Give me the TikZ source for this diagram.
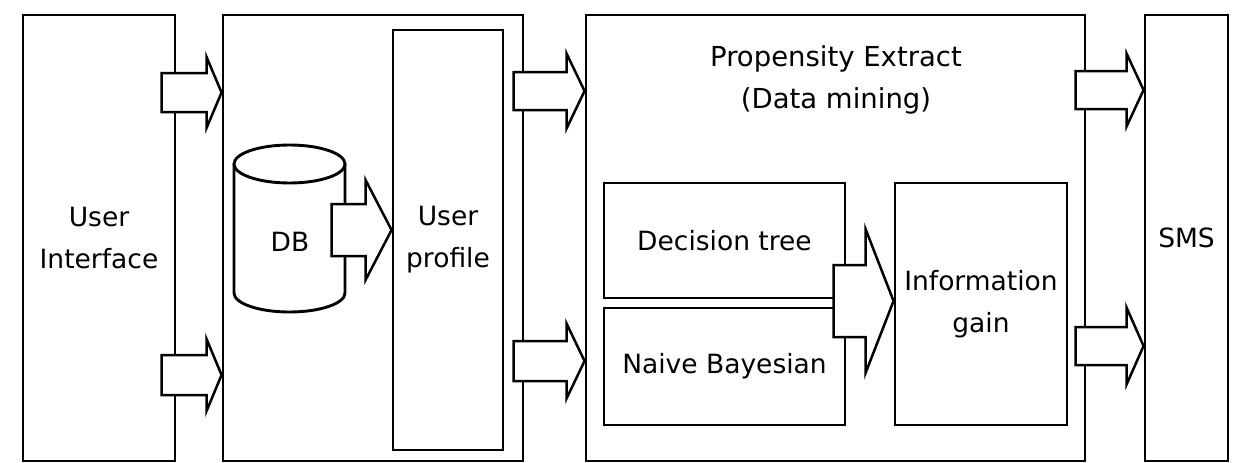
\documentclass[tikz,border=0pt]{standalone}
\usepackage{fontspec}
\setmainfont{DejaVu Sans}
\usetikzlibrary{calc}
% block arrow: tip, total length, head length, shaft half-width, head half-width
\newcommand\blockarrow[5]{%
  \draw[barrow] #1 -- ++(-#3,-#5) -- ++(0,{#5-#4}) -- ++({#3-#2},0)
    -- ++(0,{2*#4}) -- ++({#2-#3},0) -- ++(0,{#5-#4}) -- cycle;}
\begin{document}
\begin{tikzpicture}[x=1pt,y=-1pt,
  lbl/.style={font=\fontsize{26.5}{42}\selectfont, align=center, inner sep=0pt},
  box/.style={draw, line width=2.9pt, inner sep=0pt, lbl},
  barrow/.style={draw, fill=white, line width=2.5pt, line join=miter},
  drum/.style={draw, line width=2.9pt, fill=white},
]
\useasboundingbox (0,0) rectangle (1234,463);

% outer blocks
\node[box, minimum width=152pt, minimum height=446pt] (ui) at (99,238) {User\\Interface};
\node[box, minimum width=300pt, minimum height=446pt] (store) at (373,238) {};
\node[box, minimum width=110pt, minimum height=420pt] (profile) at (448,240) {User\\profile};
\node[box, minimum width=499pt, minimum height=446pt] (prop) at (835.5,238) {};
\node[box, minimum width=83pt, minimum height=446pt] (sms) at (1186.5,238) {SMS};

% propensity extraction block
\node[lbl, font=\fontsize{27.5}{42}\selectfont] (title) at (836,80) {Propensity Extract\\(Data mining)};
\node[box, minimum width=241pt, minimum height=115pt] (dtree) at (724.5,240.5) {Decision tree};
\node[box, minimum width=241pt, minimum height=117pt] (nbayes) at (724.5,366.5) {Naive Bayesian};
\node[box, minimum width=172pt, minimum height=242pt] (infog) at (981,304) {Information\\gain};

% database drum
\draw[drum] (234,164) -- (234,293) arc[start angle=180, end angle=0, x radius=55.5, y radius=19] -- (345,164);
\draw[drum] (289.5,164) ellipse [x radius=55.5, y radius=19];
\node[lbl] (db) at (290,242) {DB};

% flows
\blockarrow{(store.west |- 0,92.5)}{60}{15}{19.5}{35.5}
\blockarrow{(store.west |- 0,375)}{60}{15}{20}{36}
\blockarrow{(profile.west |- 0,230)}{60}{26}{26}{50}
\blockarrow{(prop.west |- 0,91)}{71}{18}{19}{37.5}
\blockarrow{(prop.west |- 0,361)}{71}{18}{20}{37.5}
\blockarrow{(infog.west |- 0,301)}{60}{28}{36}{72}
\blockarrow{(sms.west |- 0,90)}{68}{17}{19}{36.5}
\blockarrow{(sms.west |- 0,346)}{68}{17}{19}{38.5}
\end{tikzpicture}
\end{document}
